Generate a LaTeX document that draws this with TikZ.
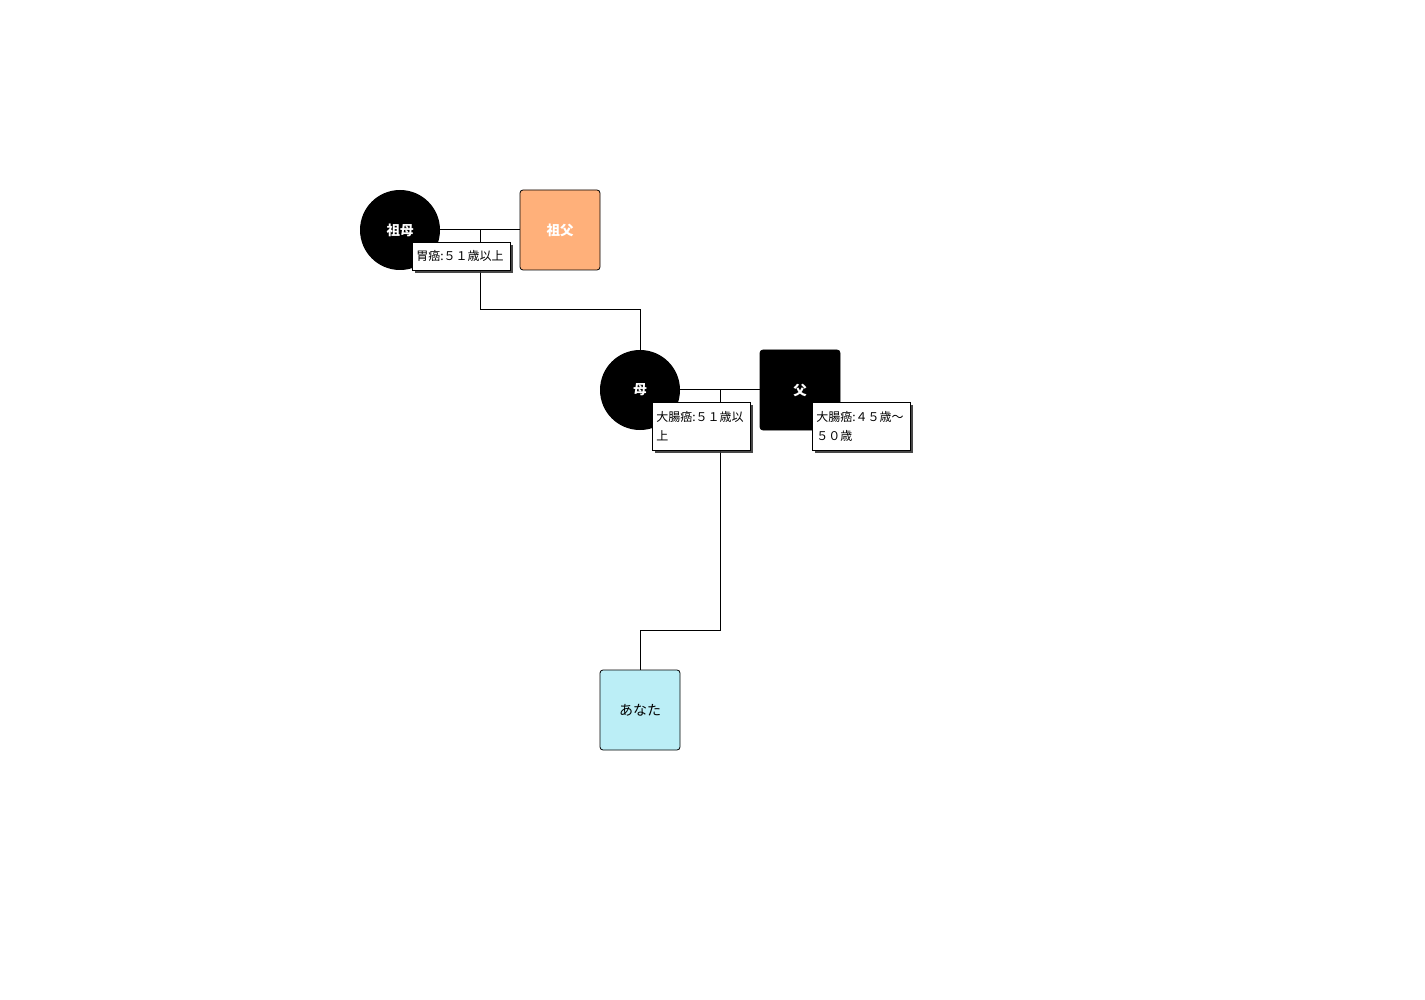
\documentclass[tikz,border=0pt]{standalone}
\usepackage{fontspec}
\setmainfont{Noto Sans CJK JP}
\usetikzlibrary{shadows}
\definecolor{grandpa}{HTML}{FFB07A}
\definecolor{you}{HTML}{BBEEF6}

\begin{document}
\begin{tikzpicture}[x=1pt,y=-1pt,semithick]
\tikzstyle{female}=[circle,minimum size=80pt,inner sep=0pt,fill=black,text=white,font=\fontsize{13.5pt}{15pt}\selectfont\bfseries]
\tikzstyle{male}=[rectangle,rounded corners=3pt,minimum size=80pt,inner sep=0pt,draw=black,line width=0.8pt,font=\fontsize{13.5pt}{15pt}\selectfont\bfseries]
\tikzstyle{note}=[rectangle,anchor=north west,draw=black,line width=0.6pt,fill=white,text width=90pt,inner xsep=4pt,inner ysep=2pt,align=left,
                  font=\fontsize{12pt}{19pt}\selectfont,drop shadow={shadow xshift=3pt,shadow yshift=-3pt,fill=black!80,opacity=0.9}]
\tikzset{line/.style={line width=1pt,black}}

\useasboundingbox (0,0) rectangle (1425,1000);

        % grandparents
        \node[female]                          (gm)  at (400,230) {祖母};
        \node[male, fill=grandpa, text=white]  (gf)  at (560,230) {祖父};

        % parents
        \node[female]                          (mo)  at (640,390) {母};
        \node[male, fill=black, text=white]    (fa)  at (800,390) {父};

        % you
        \node[male, fill=you, text=black, font=\fontsize{14pt}{16pt}\selectfont] (me) at (640,710) {あなた};

        \coordinate (gmid) at (480,230);
        \coordinate (gdown) at (480,310);
        \coordinate (gturn) at (640,310);
        \coordinate (pmid) at (720,390);
        \coordinate (pdown) at (720,630);
        \coordinate (pturn) at (640,630);

        \draw[line] (gm.east) -- (gf.west);
        \draw[line] (gmid) -- (gdown) -- (gturn) -- (mo.north);
        \draw[line] (mo.east) -- (fa.west);
        \draw[line] (pmid) -- (pdown) -- (pturn) -- (me.north);

        % notes
        \node[note, minimum height=28pt] (gmnote) at (412,242) {胃癌:５１歳以上};
        \node[note, minimum height=48pt] (monote) at (652,402) {大腸癌:５１歳以\\上};
        \node[note, minimum height=48pt] (fanote) at (812,402) {大腸癌:４５歳〜\\５０歳};

\end{tikzpicture}
\end{document}
